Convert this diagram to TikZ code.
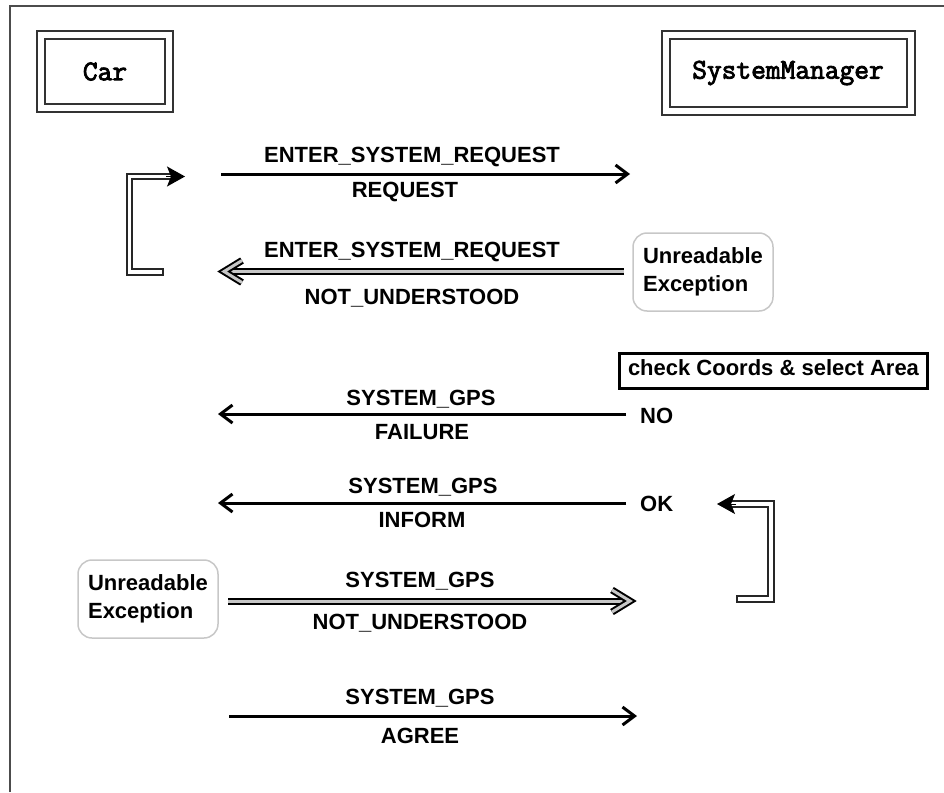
\documentclass[tikz,border=0pt]{standalone}
\usepackage{fontspec}
\setmainfont{Liberation Sans}
\newfontfamily\agentfont{Latin Modern Mono}[FakeBold=3]
\usetikzlibrary{arrows.meta}
\newcommand\lblfont{\bfseries\fontsize{22}{28}\selectfont}
\tikzset{
  agent/.style={draw=black!80, double, double distance=6pt, line width=2pt,
    font=\agentfont\fontsize{28.6}{30}\selectfont, inner sep=0pt},
  lbl/.style={font=\lblfont, inner sep=0pt, text height=15.8pt, text depth=0pt},
  msg/.style={line width=3pt, -{Straight Barb[length=12pt,width=18pt]}},
  dmsg/.style={draw=black, double=gray!45, double distance=3pt, line width=2pt},
  dhead/.style={dmsg, line join=miter, line cap=butt},
  notebox/.style={draw=black!22, rounded corners=14pt, line width=1.5pt,
    align=left, font=\lblfont, inner sep=0pt},
  loopline/.style={line width=2pt, draw=black!85},
  loophead/.style={line width=1pt, -{Stealth[length=18pt,width=20pt,inset=4pt]}}
}
\begin{document}
\begin{tikzpicture}[x=1pt,y=-1pt]
\useasboundingbox (0,0) rectangle (944,792);
% outer frame (left and top edges)
\draw[line width=1.5pt, black!70] (10,792) -- (10,6) -- (944,6);

% participants
\node[agent, minimum width=128pt, minimum height=73pt] (car) at (105,71.5) {Car};
\node[agent, minimum width=245pt, minimum height=76.5pt] (sm) at (788,73) {SystemManager};

% ENTER_SYSTEM_REQUEST / REQUEST
\coordinate (m1a) at (221,174);
\coordinate (m1b) at (630,174);
\draw[msg] (m1a) -- (m1b);
\node[lbl] (m1top) at (412,155) {ENTER\_SYSTEM\_REQUEST};
\node[lbl] (m1bot) at (405,190) {REQUEST};

% retry loop on the Car side
\draw[loopline] (163,275) -- (127,275) -- (127,174) -- (172,174) -- (172,179)
  -- (132,179) -- (132,269) -- (163,269) -- cycle;
\coordinate (l1a) at (166,176.5);
\coordinate (l1b) at (185,176.5);
\draw[loophead] (l1a) -- (l1b);

% ENTER_SYSTEM_REQUEST / NOT_UNDERSTOOD (double-lined message)
\coordinate (m2a) at (624,271.5);
\coordinate (m2b) at (224,271.5);
\draw[dmsg] (m2a) -- (m2b);
\draw[dhead] ([shift={(18,-11)}]m2b) -- (m2b) -- ([shift={(18,11)}]m2b);
\node[lbl] (m2top) at (412,250) {ENTER\_SYSTEM\_REQUEST};
\node[lbl] (m2bot) at (412,297) {NOT\_UNDERSTOOD};
\node[notebox, minimum width=140pt, minimum height=78pt] (ex1) at (703,272)
  {Unreadable\\Exception};

% area selection
\node[draw, line width=3pt, minimum width=308pt, minimum height=35pt, font=\lblfont,
  inner sep=0pt, text height=14pt, text depth=6pt] (chk) at (773.5,371)
  {check Coords \& select Area};

% SYSTEM_GPS / FAILURE
\node[lbl, anchor=west] (no) at (640,415.5) {NO};
\coordinate (m3a) at (626,414);
\coordinate (m3b) at (218,414);
\draw[msg] (m3a) -- (m3b);
\node[lbl] (m3top) at (421,398) {SYSTEM\_GPS};
\node[lbl] (m3bot) at (422,431.5) {FAILURE};

% SYSTEM_GPS / INFORM
\node[lbl, anchor=west] (ok) at (640,504) {OK};
\coordinate (m4a) at (626,503);
\coordinate (m4b) at (218,503);
\draw[msg] (m4a) -- (m4b);
\node[lbl] (m4top) at (423,485.5) {SYSTEM\_GPS};
\node[lbl] (m4bot) at (422,520) {INFORM};

% retry loop on the SystemManager side
\draw[loopline] (737,602) -- (774,602) -- (774,501) -- (728,501) -- (728,507)
  -- (768,507) -- (768,596) -- (737,596) -- cycle;
\coordinate (l2a) at (736,504);
\coordinate (l2b) at (717,504);
\draw[loophead] (l2a) -- (l2b);

% SYSTEM_GPS / NOT_UNDERSTOOD (double-lined message)
\node[notebox, minimum width=140pt, minimum height=78pt] (ex2) at (148,599)
  {Unreadable\\Exception};
\coordinate (m5a) at (228,601);
\coordinate (m5b) at (630,601);
\draw[dmsg] (m5a) -- (m5b);
\draw[dhead] ([shift={(-18,-11)}]m5b) -- (m5b) -- ([shift={(-18,11)}]m5b);
\node[lbl] (m5top) at (420,580) {SYSTEM\_GPS};
\node[lbl] (m5bot) at (420,622) {NOT\_UNDERSTOOD};

% SYSTEM_GPS / AGREE
\coordinate (m6a) at (229,716);
\coordinate (m6b) at (637,716);
\draw[msg] (m6a) -- (m6b);
\node[lbl] (m6top) at (420,697) {SYSTEM\_GPS};
\node[lbl] (m6bot) at (420,736) {AGREE};
\end{tikzpicture}
\end{document}
